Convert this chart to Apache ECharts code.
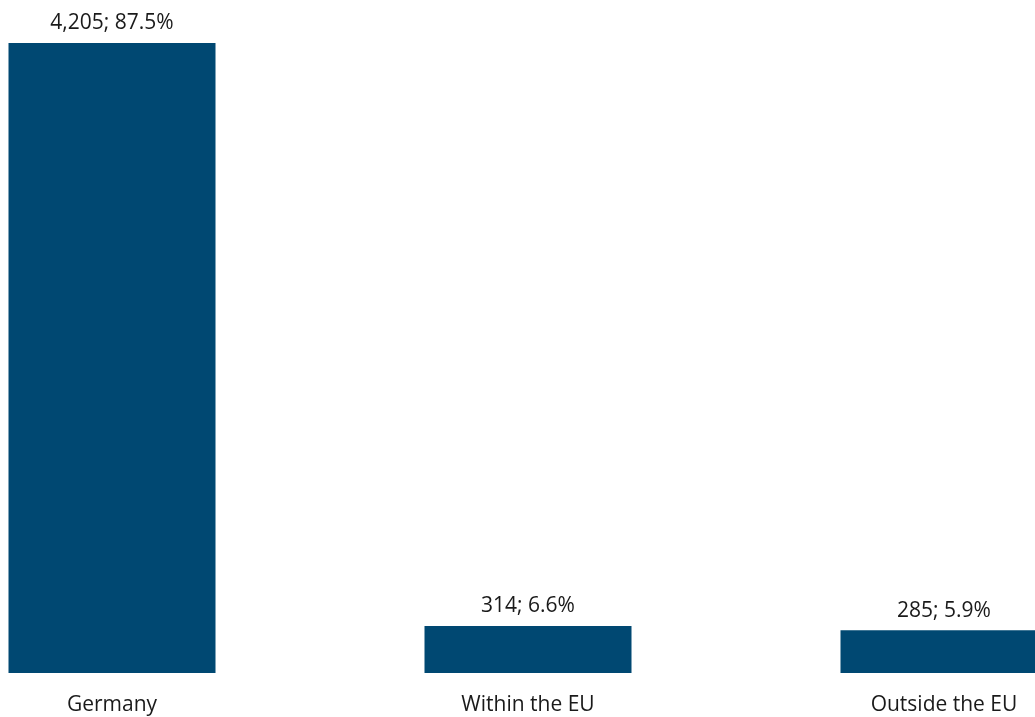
<!DOCTYPE html>
<html>
<head>
<meta charset="utf-8">
<script src="https://cdn.jsdelivr.net/npm/echarts@6/dist/echarts.min.js"></script>
<style>html,body{margin:0;padding:0;background:#fff}#c{width:1035px;height:717px}</style>
</head>
<body>
<div id="c"></div>
<script>
const categories = ["Germany", "Within the EU", "Outside the EU"];
const counts = [4205, 314, 285];
const shares = [87.5, 6.6, 5.9];

const chart = echarts.init(document.getElementById('c'), null, {renderer: 'canvas'});
const fmt = n => n.toLocaleString('en-US');
chart.setOption({
  animation: false,
  grid: {left: -96, right: -117, top: 43, bottom: 44, containLabel: false, outerBoundsMode: 'none'},
  xAxis: {
    type: 'category',
    data: categories,
    axisLine: {show: false},
    axisTick: {show: false},
    axisLabel: {fontFamily: 'Open Sans', fontSize: 21, color: '#1a1a1a', margin: 22}
  },
  yAxis: {type: 'value', min: 0, max: 4205, show: false, splitLine: {show: false}},
  series: [{
    type: 'bar',
    data: counts,
    barWidth: 207,
    itemStyle: {color: '#004872'},
    label: {
      show: true,
      position: 'top',
      distance: 9,
      fontFamily: 'Open Sans',
      fontSize: 21,
      color: '#1a1a1a',
      formatter: p => fmt(counts[p.dataIndex]) + '; ' + shares[p.dataIndex].toFixed(1) + '%'
    }
  }]
});
</script>
</body>
</html>
